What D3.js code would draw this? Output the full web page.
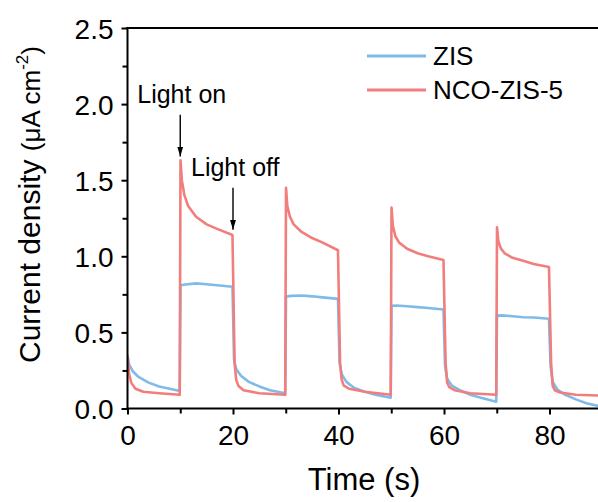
<!DOCTYPE html>
<html>
<head>
<meta charset="utf-8">
<script src="https://cdn.jsdelivr.net/npm/d3@7"></script>
<style>
  html, body { margin: 0; padding: 0; background: #fff; }
  svg { display: block; font-family: "Liberation Sans", Arial, sans-serif; }
</style>
</head>
<body>
<svg id="chart" width="598" height="502"></svg>
<script>
// ---- Data ----
const seriesNames = ["ZIS", "NCO-ZIS-5"];
const seriesColors = ["#7fbbe8", "#f27d7d"];

const zisTime = [0, 0.3, 1, 2, 4, 6, 8, 9.9,
  10.05, 11, 13, 15, 17, 19.9,
  20.2, 20.6, 21.5, 23, 25, 27, 29.9,
  30.05, 31, 33, 35, 37, 39.9,
  40.2, 40.6, 41.5, 43, 45, 47, 49.9,
  50.05, 51, 53, 55, 57, 59.9,
  60.2, 60.6, 61.5, 63, 65, 67, 69.9,
  70.05, 71, 73, 75, 77, 79.9,
  80.2, 80.6, 81.5, 83, 85, 87, 90];
const zisValues = [0.35, 0.29, 0.245, 0.21, 0.17, 0.145, 0.13, 0.115,
  0.81, 0.815, 0.822, 0.816, 0.81, 0.80,
  0.32, 0.26, 0.215, 0.175, 0.145, 0.12, 0.10,
  0.735, 0.74, 0.742, 0.737, 0.73, 0.72,
  0.30, 0.225, 0.175, 0.135, 0.11, 0.09, 0.07,
  0.675, 0.677, 0.672, 0.666, 0.66, 0.65,
  0.28, 0.195, 0.15, 0.12, 0.09, 0.07, 0.045,
  0.61, 0.612, 0.606, 0.60, 0.598, 0.59,
  0.28, 0.175, 0.125, 0.09, 0.06, 0.035, 0.01];

const ncoTime = [0, 0.3, 0.7, 1.5, 3, 6, 9.9,
  10.05, 10.3, 10.8, 11.5, 13, 15, 17, 19.9,
  20.3, 20.6, 21, 22, 25, 29.9,
  30.05, 30.3, 30.8, 31.5, 33, 35, 37, 39.9,
  40.3, 40.6, 41, 42, 45, 49.9,
  50.05, 50.3, 50.8, 51.5, 53, 55, 57, 59.9,
  60.3, 60.6, 61, 62, 65, 69.9,
  70.05, 70.3, 70.8, 71.5, 73, 75, 77, 79.9,
  80.3, 80.6, 81, 82, 85, 90];
const ncoValues = [0.34, 0.23, 0.17, 0.13, 0.11, 0.10, 0.09,
  1.63, 1.50, 1.40, 1.33, 1.26, 1.21, 1.18, 1.14,
  0.30, 0.19, 0.15, 0.12, 0.10, 0.09,
  1.45, 1.33, 1.26, 1.21, 1.16, 1.12, 1.09, 1.04,
  0.30, 0.19, 0.15, 0.13, 0.11, 0.09,
  1.32, 1.20, 1.13, 1.09, 1.05, 1.02, 1.00, 0.975,
  0.30, 0.17, 0.14, 0.12, 0.10, 0.09,
  1.19, 1.10, 1.05, 1.02, 0.99, 0.97, 0.95, 0.93,
  0.30, 0.15, 0.12, 0.105, 0.09, 0.085];

const xTickValues = [0, 20, 40, 60, 80];
const xMinorTicks = [10, 30, 50, 70, 90];
const yTickValues = [0.0, 0.5, 1.0, 1.5, 2.0, 2.5];
const yMinorTicks = [0.25, 0.75, 1.25, 1.75, 2.25];

const annotations = [
  { label: "Light on", t: 10, tip: 1.655, tail: 1.93 },
  { label: "Light off", t: 20, tip: 1.174, tail: 1.45 }
];

// ---- Layout ----
const svg = d3.select("#chart");
const plotLeft = 127.5, plotTop = 28, plotBottom = 408.5;
const x = d3.scaleLinear().domain([0, 80]).range([plotLeft, 549.5]);
const xMax = 90;
const y = d3.scaleLinear().domain([0, 2.5]).range([plotBottom, plotTop]);

const defs = svg.append("defs");
defs.append("clipPath").attr("id", "clip")
  .append("rect").attr("x", plotLeft).attr("y", plotTop)
  .attr("width", x(xMax) - plotLeft).attr("height", plotBottom - plotTop);

// ---- Lines ----
const line = d3.line().x(d => x(d[0])).y(d => y(d[1]));
const series = [
  d3.zip(zisTime, zisValues),
  d3.zip(ncoTime, ncoValues)
];
const plot = svg.append("g").attr("clip-path", "url(#clip)");
series.forEach((s, i) => {
  plot.append("path").datum(s)
    .attr("d", line)
    .attr("fill", "none")
    .attr("stroke", seriesColors[i])
    .attr("stroke-width", 2.6)
    .attr("stroke-linejoin", "round");
});

// ---- Axes ----
const fontTick = 28;
const xAxis = svg.append("g").attr("transform", `translate(0,${plotBottom})`)
  .call(d3.axisBottom(x).tickValues(xTickValues).tickFormat(d3.format("d"))
    .tickSize(6).tickPadding(11).tickSizeOuter(0));
const xMinor = svg.append("g").attr("transform", `translate(0,${plotBottom})`)
  .call(d3.axisBottom(x).tickValues(xMinorTicks).tickFormat("").tickSize(5).tickSizeOuter(0));
const yAxis = svg.append("g").attr("transform", `translate(${plotLeft},0)`)
  .call(d3.axisLeft(y).tickValues(yTickValues).tickFormat(d3.format(".1f"))
    .tickSize(6).tickPadding(8).tickSizeOuter(0));
const yMinor = svg.append("g").attr("transform", `translate(${plotLeft},0)`)
  .call(d3.axisLeft(y).tickValues(yMinorTicks).tickFormat("").tickSize(5).tickSizeOuter(0));

[xAxis, xMinor, yAxis, yMinor].forEach(g => {
  g.selectAll(".domain").remove();
  g.selectAll("line").attr("stroke", "#000").attr("stroke-width", 2);
  g.selectAll("text").attr("fill", "#000").style("font-size", fontTick + "px")
    .style("font-family", "'Liberation Sans', Arial, sans-serif");
});
yAxis.selectAll("text").attr("dy", "0.36em");

// axis frame lines
svg.append("line").attr("x1", plotLeft - 1).attr("x2", x(xMax) + 5)
  .attr("y1", plotBottom).attr("y2", plotBottom).attr("stroke", "#000").attr("stroke-width", 2);
svg.append("line").attr("x1", plotLeft).attr("x2", plotLeft)
  .attr("y1", plotTop - 1).attr("y2", plotBottom + 1).attr("stroke", "#000").attr("stroke-width", 2);
svg.append("line").attr("x1", plotLeft - 1).attr("x2", x(xMax) + 5)
  .attr("y1", plotTop).attr("y2", plotTop).attr("stroke", "#000").attr("stroke-width", 2);

// ---- Axis titles ----
svg.append("text").attr("x", 364).attr("y", 490)
  .attr("text-anchor", "middle").style("font-size", "31px").attr("fill", "#000")
  .text("Time (s)");

const yt = svg.append("text")
  .attr("transform", "translate(40,363) rotate(-90)")
  .attr("text-anchor", "start").attr("fill", "#000");
yt.append("tspan").style("font-size", "30px").text("Current density ");
yt.append("tspan").style("font-size", "26px").text("(μA cm");
yt.append("tspan").style("font-size", "17px").attr("dy", -12).text("-2");
yt.append("tspan").style("font-size", "26px").attr("dy", 12).text(")");

// ---- Legend ----
const legendY = [56, 90];
seriesNames.forEach((name, i) => {
  svg.append("line").attr("x1", 367).attr("x2", 426)
    .attr("y1", legendY[i]).attr("y2", legendY[i])
    .attr("stroke", seriesColors[i]).attr("stroke-width", 3);
  svg.append("text").attr("x", 433).attr("y", legendY[i] + 9)
    .style("font-size", "26px").attr("fill", "#000").text(name);
});

// ---- Annotations ----
defs.append("marker").attr("id", "arrow").attr("viewBox", "0 0 10 10")
  .attr("refX", 10).attr("refY", 5).attr("markerWidth", 10).attr("markerHeight", 10)
  .attr("markerUnits", "userSpaceOnUse").attr("orient", "auto")
  .append("path").attr("d", "M0,2 L10,5 L0,8 Z").attr("fill", "#000");

const annLabelPos = [{ dx: -43, dy: -12 }, { dx: -42, dy: -12 }];
annotations.forEach((a, i) => {
  svg.append("line").attr("x1", x(a.t)).attr("x2", x(a.t))
    .attr("y1", y(a.tail)).attr("y2", y(a.tip))
    .attr("stroke", "#000").attr("stroke-width", 1.4)
    .attr("marker-end", "url(#arrow)");
  svg.append("text").attr("x", x(a.t) + annLabelPos[i].dx)
    .attr("y", y(a.tail) + annLabelPos[i].dy)
    .style("font-size", "25px").attr("fill", "#000").text(a.label);
});
</script>
</body>
</html>
